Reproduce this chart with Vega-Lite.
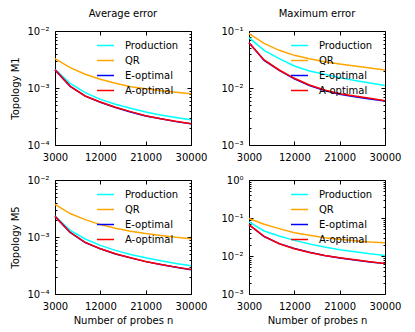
{
  "$schema": "https://vega.github.io/schema/vega-lite/v6.json",
  "padding": {"left": 10, "top": 8, "right": 5, "bottom": 5},
  "background": "white",
  "data": {"values": [
    {"panel": "M1avg", "method": "Production", "n": 3000, "error": 0.00212},
    {"panel": "M1avg", "method": "Production", "n": 6000, "error": 0.00121},
    {"panel": "M1avg", "method": "Production", "n": 9000, "error": 0.000828},
    {"panel": "M1avg", "method": "Production", "n": 12000, "error": 0.000632},
    {"panel": "M1avg", "method": "Production", "n": 15000, "error": 0.000517},
    {"panel": "M1avg", "method": "Production", "n": 18000, "error": 0.00044},
    {"panel": "M1avg", "method": "Production", "n": 21000, "error": 0.000379},
    {"panel": "M1avg", "method": "Production", "n": 24000, "error": 0.000336},
    {"panel": "M1avg", "method": "Production", "n": 27000, "error": 0.000305},
    {"panel": "M1avg", "method": "Production", "n": 30000, "error": 0.000278},
    {"panel": "M1avg", "method": "QR", "n": 3000, "error": 0.00327},
    {"panel": "M1avg", "method": "QR", "n": 6000, "error": 0.00228},
    {"panel": "M1avg", "method": "QR", "n": 9000, "error": 0.00174},
    {"panel": "M1avg", "method": "QR", "n": 12000, "error": 0.00142},
    {"panel": "M1avg", "method": "QR", "n": 15000, "error": 0.00121},
    {"panel": "M1avg", "method": "QR", "n": 18000, "error": 0.00105},
    {"panel": "M1avg", "method": "QR", "n": 21000, "error": 0.00097},
    {"panel": "M1avg", "method": "QR", "n": 24000, "error": 0.000897},
    {"panel": "M1avg", "method": "QR", "n": 27000, "error": 0.000839},
    {"panel": "M1avg", "method": "QR", "n": 30000, "error": 0.000795},
    {"panel": "M1avg", "method": "E-optimal", "n": 3000, "error": 0.00208},
    {"panel": "M1avg", "method": "E-optimal", "n": 6000, "error": 0.00107},
    {"panel": "M1avg", "method": "E-optimal", "n": 9000, "error": 0.00072},
    {"panel": "M1avg", "method": "E-optimal", "n": 12000, "error": 0.000562},
    {"panel": "M1avg", "method": "E-optimal", "n": 15000, "error": 0.000455},
    {"panel": "M1avg", "method": "E-optimal", "n": 18000, "error": 0.00038},
    {"panel": "M1avg", "method": "E-optimal", "n": 21000, "error": 0.000324},
    {"panel": "M1avg", "method": "E-optimal", "n": 24000, "error": 0.000288},
    {"panel": "M1avg", "method": "E-optimal", "n": 27000, "error": 0.000257},
    {"panel": "M1avg", "method": "E-optimal", "n": 30000, "error": 0.000235},
    {"panel": "M1avg", "method": "A-optimal", "n": 3000, "error": 0.0021},
    {"panel": "M1avg", "method": "A-optimal", "n": 6000, "error": 0.00108},
    {"panel": "M1avg", "method": "A-optimal", "n": 9000, "error": 0.000724},
    {"panel": "M1avg", "method": "A-optimal", "n": 12000, "error": 0.000568},
    {"panel": "M1avg", "method": "A-optimal", "n": 15000, "error": 0.000458},
    {"panel": "M1avg", "method": "A-optimal", "n": 18000, "error": 0.000385},
    {"panel": "M1avg", "method": "A-optimal", "n": 21000, "error": 0.000327},
    {"panel": "M1avg", "method": "A-optimal", "n": 24000, "error": 0.00029},
    {"panel": "M1avg", "method": "A-optimal", "n": 27000, "error": 0.00026},
    {"panel": "M1avg", "method": "A-optimal", "n": 30000, "error": 0.000237},

    {"panel": "M1max", "method": "Production", "n": 3000, "error": 0.0764},
    {"panel": "M1max", "method": "Production", "n": 6000, "error": 0.0458},
    {"panel": "M1max", "method": "Production", "n": 9000, "error": 0.0327},
    {"panel": "M1max", "method": "Production", "n": 12000, "error": 0.0243},
    {"panel": "M1max", "method": "Production", "n": 15000, "error": 0.0199},
    {"panel": "M1max", "method": "Production", "n": 18000, "error": 0.0174},
    {"panel": "M1max", "method": "Production", "n": 21000, "error": 0.0152},
    {"panel": "M1max", "method": "Production", "n": 24000, "error": 0.0136},
    {"panel": "M1max", "method": "Production", "n": 27000, "error": 0.0122},
    {"panel": "M1max", "method": "Production", "n": 30000, "error": 0.0111},
    {"panel": "M1max", "method": "QR", "n": 3000, "error": 0.0898},
    {"panel": "M1max", "method": "QR", "n": 6000, "error": 0.0608},
    {"panel": "M1max", "method": "QR", "n": 9000, "error": 0.0458},
    {"panel": "M1max", "method": "QR", "n": 12000, "error": 0.0374},
    {"panel": "M1max", "method": "QR", "n": 15000, "error": 0.0327},
    {"panel": "M1max", "method": "QR", "n": 18000, "error": 0.029},
    {"panel": "M1max", "method": "QR", "n": 21000, "error": 0.0264},
    {"panel": "M1max", "method": "QR", "n": 24000, "error": 0.0243},
    {"panel": "M1max", "method": "QR", "n": 27000, "error": 0.0224},
    {"panel": "M1max", "method": "QR", "n": 30000, "error": 0.0207},
    {"panel": "M1max", "method": "E-optimal", "n": 3000, "error": 0.062},
    {"panel": "M1max", "method": "E-optimal", "n": 6000, "error": 0.0305},
    {"panel": "M1max", "method": "E-optimal", "n": 9000, "error": 0.0203},
    {"panel": "M1max", "method": "E-optimal", "n": 12000, "error": 0.0145},
    {"panel": "M1max", "method": "E-optimal", "n": 15000, "error": 0.011},
    {"panel": "M1max", "method": "E-optimal", "n": 18000, "error": 0.009},
    {"panel": "M1max", "method": "E-optimal", "n": 21000, "error": 0.00775},
    {"panel": "M1max", "method": "E-optimal", "n": 24000, "error": 0.007},
    {"panel": "M1max", "method": "E-optimal", "n": 27000, "error": 0.0064},
    {"panel": "M1max", "method": "E-optimal", "n": 30000, "error": 0.0059},
    {"panel": "M1max", "method": "A-optimal", "n": 3000, "error": 0.0624},
    {"panel": "M1max", "method": "A-optimal", "n": 6000, "error": 0.031},
    {"panel": "M1max", "method": "A-optimal", "n": 9000, "error": 0.0207},
    {"panel": "M1max", "method": "A-optimal", "n": 12000, "error": 0.0148},
    {"panel": "M1max", "method": "A-optimal", "n": 15000, "error": 0.0113},
    {"panel": "M1max", "method": "A-optimal", "n": 18000, "error": 0.00923},
    {"panel": "M1max", "method": "A-optimal", "n": 21000, "error": 0.00796},
    {"panel": "M1max", "method": "A-optimal", "n": 24000, "error": 0.00724},
    {"panel": "M1max", "method": "A-optimal", "n": 27000, "error": 0.00659},
    {"panel": "M1max", "method": "A-optimal", "n": 30000, "error": 0.006},

    {"panel": "M5avg", "method": "Production", "n": 3000, "error": 0.00232},
    {"panel": "M5avg", "method": "Production", "n": 6000, "error": 0.00131},
    {"panel": "M5avg", "method": "Production", "n": 9000, "error": 0.000922},
    {"panel": "M5avg", "method": "Production", "n": 12000, "error": 0.000713},
    {"panel": "M5avg", "method": "Production", "n": 15000, "error": 0.000582},
    {"panel": "M5avg", "method": "Production", "n": 18000, "error": 0.000495},
    {"panel": "M5avg", "method": "Production", "n": 21000, "error": 0.000432},
    {"panel": "M5avg", "method": "Production", "n": 24000, "error": 0.000382},
    {"panel": "M5avg", "method": "Production", "n": 27000, "error": 0.000343},
    {"panel": "M5avg", "method": "Production", "n": 30000, "error": 0.000312},
    {"panel": "M5avg", "method": "QR", "n": 3000, "error": 0.00373},
    {"panel": "M5avg", "method": "QR", "n": 6000, "error": 0.00258},
    {"panel": "M5avg", "method": "QR", "n": 9000, "error": 0.00202},
    {"panel": "M5avg", "method": "QR", "n": 12000, "error": 0.00165},
    {"panel": "M5avg", "method": "QR", "n": 15000, "error": 0.00142},
    {"panel": "M5avg", "method": "QR", "n": 18000, "error": 0.00126},
    {"panel": "M5avg", "method": "QR", "n": 21000, "error": 0.00115},
    {"panel": "M5avg", "method": "QR", "n": 24000, "error": 0.00106},
    {"panel": "M5avg", "method": "QR", "n": 27000, "error": 0.000987},
    {"panel": "M5avg", "method": "QR", "n": 30000, "error": 0.000935},
    {"panel": "M5avg", "method": "E-optimal", "n": 3000, "error": 0.0023},
    {"panel": "M5avg", "method": "E-optimal", "n": 6000, "error": 0.0012},
    {"panel": "M5avg", "method": "E-optimal", "n": 9000, "error": 0.0008},
    {"panel": "M5avg", "method": "E-optimal", "n": 12000, "error": 0.00062},
    {"panel": "M5avg", "method": "E-optimal", "n": 15000, "error": 0.000505},
    {"panel": "M5avg", "method": "E-optimal", "n": 18000, "error": 0.00043},
    {"panel": "M5avg", "method": "E-optimal", "n": 21000, "error": 0.00037},
    {"panel": "M5avg", "method": "E-optimal", "n": 24000, "error": 0.000328},
    {"panel": "M5avg", "method": "E-optimal", "n": 27000, "error": 0.000294},
    {"panel": "M5avg", "method": "E-optimal", "n": 30000, "error": 0.000267},
    {"panel": "M5avg", "method": "A-optimal", "n": 3000, "error": 0.0023},
    {"panel": "M5avg", "method": "A-optimal", "n": 6000, "error": 0.00121},
    {"panel": "M5avg", "method": "A-optimal", "n": 9000, "error": 0.000805},
    {"panel": "M5avg", "method": "A-optimal", "n": 12000, "error": 0.000622},
    {"panel": "M5avg", "method": "A-optimal", "n": 15000, "error": 0.000508},
    {"panel": "M5avg", "method": "A-optimal", "n": 18000, "error": 0.000432},
    {"panel": "M5avg", "method": "A-optimal", "n": 21000, "error": 0.000372},
    {"panel": "M5avg", "method": "A-optimal", "n": 24000, "error": 0.00033},
    {"panel": "M5avg", "method": "A-optimal", "n": 27000, "error": 0.000296},
    {"panel": "M5avg", "method": "A-optimal", "n": 30000, "error": 0.000269},

    {"panel": "M5max", "method": "Production", "n": 3000, "error": 0.0788},
    {"panel": "M5max", "method": "Production", "n": 6000, "error": 0.0455},
    {"panel": "M5max", "method": "Production", "n": 9000, "error": 0.0336},
    {"panel": "M5max", "method": "Production", "n": 12000, "error": 0.0258},
    {"panel": "M5max", "method": "Production", "n": 15000, "error": 0.0206},
    {"panel": "M5max", "method": "Production", "n": 18000, "error": 0.0172},
    {"panel": "M5max", "method": "Production", "n": 21000, "error": 0.0146},
    {"panel": "M5max", "method": "Production", "n": 24000, "error": 0.0129},
    {"panel": "M5max", "method": "Production", "n": 27000, "error": 0.0114},
    {"panel": "M5max", "method": "Production", "n": 30000, "error": 0.0103},
    {"panel": "M5max", "method": "QR", "n": 3000, "error": 0.0966},
    {"panel": "M5max", "method": "QR", "n": 6000, "error": 0.0684},
    {"panel": "M5max", "method": "QR", "n": 9000, "error": 0.0525},
    {"panel": "M5max", "method": "QR", "n": 12000, "error": 0.0411},
    {"panel": "M5max", "method": "QR", "n": 15000, "error": 0.035},
    {"panel": "M5max", "method": "QR", "n": 18000, "error": 0.0303},
    {"panel": "M5max", "method": "QR", "n": 21000, "error": 0.0274},
    {"panel": "M5max", "method": "QR", "n": 24000, "error": 0.0252},
    {"panel": "M5max", "method": "QR", "n": 27000, "error": 0.0233},
    {"panel": "M5max", "method": "QR", "n": 30000, "error": 0.0223},
    {"panel": "M5max", "method": "E-optimal", "n": 3000, "error": 0.0665},
    {"panel": "M5max", "method": "E-optimal", "n": 6000, "error": 0.0325},
    {"panel": "M5max", "method": "E-optimal", "n": 9000, "error": 0.0212},
    {"panel": "M5max", "method": "E-optimal", "n": 12000, "error": 0.0157},
    {"panel": "M5max", "method": "E-optimal", "n": 15000, "error": 0.0125},
    {"panel": "M5max", "method": "E-optimal", "n": 18000, "error": 0.0103},
    {"panel": "M5max", "method": "E-optimal", "n": 21000, "error": 0.0089},
    {"panel": "M5max", "method": "E-optimal", "n": 24000, "error": 0.0079},
    {"panel": "M5max", "method": "E-optimal", "n": 27000, "error": 0.007},
    {"panel": "M5max", "method": "E-optimal", "n": 30000, "error": 0.0063},
    {"panel": "M5max", "method": "A-optimal", "n": 3000, "error": 0.067},
    {"panel": "M5max", "method": "A-optimal", "n": 6000, "error": 0.0329},
    {"panel": "M5max", "method": "A-optimal", "n": 9000, "error": 0.021},
    {"panel": "M5max", "method": "A-optimal", "n": 12000, "error": 0.0155},
    {"panel": "M5max", "method": "A-optimal", "n": 15000, "error": 0.0124},
    {"panel": "M5max", "method": "A-optimal", "n": 18000, "error": 0.0103},
    {"panel": "M5max", "method": "A-optimal", "n": 21000, "error": 0.00896},
    {"panel": "M5max", "method": "A-optimal", "n": 24000, "error": 0.00794},
    {"panel": "M5max", "method": "A-optimal", "n": 27000, "error": 0.00703},
    {"panel": "M5max", "method": "A-optimal", "n": 30000, "error": 0.00634}
  ]},
  "columns": 2,
  "spacing": {"column": 58, "row": 35},
  "bounds": "flush",
  "concat": [
    {
      "width": 136, "height": 114,
      "title": "Average error",
      "transform": [{"filter": "datum.panel === 'M1avg'"}],
      "layer": [
        {"mark": {"type": "line", "strokeWidth": 1.5},
         "encoding": {
           "x": {"field": "n", "type": "quantitative", "scale": {"domain": [3000, 30000], "nice": false}, "axis": {"orient": "bottom", "values": [3000, 12000, 21000, 30000], "format": "d", "title": null}},
           "y": {"field": "error", "type": "quantitative", "scale": {"type": "log", "domain": [0.0001, 0.01], "nice": false}, "axis": {"orient": "left", "values": [0.0001, 0.001, 0.01], "title": "Topology M1", "labelExpr": "datum.value == 1 ? '10⁰' : datum.value == 0.1 ? '10⁻¹' : datum.value == 0.01 ? '10⁻²' : datum.value == 0.001 ? '10⁻³' : '10⁻⁴'"}},
           "color": {"field": "method", "type": "nominal", "scale": {"domain": ["Production", "QR", "E-optimal", "A-optimal"], "range": ["#00ffff", "#ffa500", "#0000ff", "#ff0000"]}, "legend": {"title": null}}
         }},
        {"mark": {"type": "point", "opacity": 0},
         "encoding": {
           "x": {"field": "n", "type": "quantitative", "scale": {"domain": [3000, 30000], "nice": false}, "axis": {"orient": "top", "values": [3000, 12000, 21000, 30000], "labels": false, "title": null}},
           "y": {"field": "error", "type": "quantitative", "scale": {"type": "log", "domain": [0.0001, 0.01], "nice": false}, "axis": {"orient": "right", "values": [0.0001, 0.001, 0.01], "labels": false, "title": null}}
         }},
        {"mark": {"type": "point", "opacity": 0},
         "encoding": {
           "x": {"field": "n", "type": "quantitative", "scale": {"domain": [3000, 30000], "nice": false}, "axis": null},
           "y": {"field": "error", "type": "quantitative", "scale": {"type": "log", "domain": [0.0001, 0.01], "nice": false}, "axis": {"orient": "left", "values": [0.0002, 0.0003, 0.0004, 0.0005, 0.0006, 0.0007, 0.0008, 0.0009, 0.002, 0.003, 0.004, 0.005, 0.006, 0.007, 0.008, 0.009], "labels": false, "tickSize": -2, "title": null}}
         }},
        {"mark": {"type": "point", "opacity": 0},
         "encoding": {
           "x": {"field": "n", "type": "quantitative", "scale": {"domain": [3000, 30000], "nice": false}, "axis": null},
           "y": {"field": "error", "type": "quantitative", "scale": {"type": "log", "domain": [0.0001, 0.01], "nice": false}, "axis": {"orient": "right", "values": [0.0002, 0.0003, 0.0004, 0.0005, 0.0006, 0.0007, 0.0008, 0.0009, 0.002, 0.003, 0.004, 0.005, 0.006, 0.007, 0.008, 0.009], "labels": false, "tickSize": -2, "title": null}}
         }}
      ],
      "resolve": {"scale": {"x": "independent", "y": "independent"}}
    },
    {
      "width": 136, "height": 114,
      "title": "Maximum error",
      "transform": [{"filter": "datum.panel === 'M1max'"}],
      "layer": [
        {"mark": {"type": "line", "strokeWidth": 1.5},
         "encoding": {
           "x": {"field": "n", "type": "quantitative", "scale": {"domain": [3000, 30000], "nice": false}, "axis": {"orient": "bottom", "values": [3000, 12000, 21000, 30000], "format": "d", "title": null}},
           "y": {"field": "error", "type": "quantitative", "scale": {"type": "log", "domain": [0.001, 0.1], "nice": false}, "axis": {"orient": "left", "values": [0.001, 0.01, 0.1], "title": null, "labelExpr": "datum.value == 1 ? '10⁰' : datum.value == 0.1 ? '10⁻¹' : datum.value == 0.01 ? '10⁻²' : datum.value == 0.001 ? '10⁻³' : '10⁻⁴'"}},
           "color": {"field": "method", "type": "nominal", "scale": {"domain": ["Production", "QR", "E-optimal", "A-optimal"], "range": ["#00ffff", "#ffa500", "#0000ff", "#ff0000"]}, "legend": {"title": null}}
         }},
        {"mark": {"type": "point", "opacity": 0},
         "encoding": {
           "x": {"field": "n", "type": "quantitative", "scale": {"domain": [3000, 30000], "nice": false}, "axis": {"orient": "top", "values": [3000, 12000, 21000, 30000], "labels": false, "title": null}},
           "y": {"field": "error", "type": "quantitative", "scale": {"type": "log", "domain": [0.001, 0.1], "nice": false}, "axis": {"orient": "right", "values": [0.001, 0.01, 0.1], "labels": false, "title": null}}
         }},
        {"mark": {"type": "point", "opacity": 0},
         "encoding": {
           "x": {"field": "n", "type": "quantitative", "scale": {"domain": [3000, 30000], "nice": false}, "axis": null},
           "y": {"field": "error", "type": "quantitative", "scale": {"type": "log", "domain": [0.001, 0.1], "nice": false}, "axis": {"orient": "left", "values": [0.002, 0.003, 0.004, 0.005, 0.006, 0.007, 0.008, 0.009, 0.02, 0.03, 0.04, 0.05, 0.06, 0.07, 0.08, 0.09], "labels": false, "tickSize": -2, "title": null}}
         }},
        {"mark": {"type": "point", "opacity": 0},
         "encoding": {
           "x": {"field": "n", "type": "quantitative", "scale": {"domain": [3000, 30000], "nice": false}, "axis": null},
           "y": {"field": "error", "type": "quantitative", "scale": {"type": "log", "domain": [0.001, 0.1], "nice": false}, "axis": {"orient": "right", "values": [0.002, 0.003, 0.004, 0.005, 0.006, 0.007, 0.008, 0.009, 0.02, 0.03, 0.04, 0.05, 0.06, 0.07, 0.08, 0.09], "labels": false, "tickSize": -2, "title": null}}
         }}
      ],
      "resolve": {"scale": {"x": "independent", "y": "independent"}}
    },
    {
      "width": 136, "height": 114,
      "transform": [{"filter": "datum.panel === 'M5avg'"}],
      "layer": [
        {"mark": {"type": "line", "strokeWidth": 1.5},
         "encoding": {
           "x": {"field": "n", "type": "quantitative", "scale": {"domain": [3000, 30000], "nice": false}, "axis": {"orient": "bottom", "values": [3000, 12000, 21000, 30000], "format": "d", "title": "Number of probes n"}},
           "y": {"field": "error", "type": "quantitative", "scale": {"type": "log", "domain": [0.0001, 0.01], "nice": false}, "axis": {"orient": "left", "values": [0.0001, 0.001, 0.01], "title": "Topology M5", "labelExpr": "datum.value == 1 ? '10⁰' : datum.value == 0.1 ? '10⁻¹' : datum.value == 0.01 ? '10⁻²' : datum.value == 0.001 ? '10⁻³' : '10⁻⁴'"}},
           "color": {"field": "method", "type": "nominal", "scale": {"domain": ["Production", "QR", "E-optimal", "A-optimal"], "range": ["#00ffff", "#ffa500", "#0000ff", "#ff0000"]}, "legend": {"title": null}}
         }},
        {"mark": {"type": "point", "opacity": 0},
         "encoding": {
           "x": {"field": "n", "type": "quantitative", "scale": {"domain": [3000, 30000], "nice": false}, "axis": {"orient": "top", "values": [3000, 12000, 21000, 30000], "labels": false, "title": null}},
           "y": {"field": "error", "type": "quantitative", "scale": {"type": "log", "domain": [0.0001, 0.01], "nice": false}, "axis": {"orient": "right", "values": [0.0001, 0.001, 0.01], "labels": false, "title": null}}
         }},
        {"mark": {"type": "point", "opacity": 0},
         "encoding": {
           "x": {"field": "n", "type": "quantitative", "scale": {"domain": [3000, 30000], "nice": false}, "axis": null},
           "y": {"field": "error", "type": "quantitative", "scale": {"type": "log", "domain": [0.0001, 0.01], "nice": false}, "axis": {"orient": "left", "values": [0.0002, 0.0003, 0.0004, 0.0005, 0.0006, 0.0007, 0.0008, 0.0009, 0.002, 0.003, 0.004, 0.005, 0.006, 0.007, 0.008, 0.009], "labels": false, "tickSize": -2, "title": null}}
         }},
        {"mark": {"type": "point", "opacity": 0},
         "encoding": {
           "x": {"field": "n", "type": "quantitative", "scale": {"domain": [3000, 30000], "nice": false}, "axis": null},
           "y": {"field": "error", "type": "quantitative", "scale": {"type": "log", "domain": [0.0001, 0.01], "nice": false}, "axis": {"orient": "right", "values": [0.0002, 0.0003, 0.0004, 0.0005, 0.0006, 0.0007, 0.0008, 0.0009, 0.002, 0.003, 0.004, 0.005, 0.006, 0.007, 0.008, 0.009], "labels": false, "tickSize": -2, "title": null}}
         }}
      ],
      "resolve": {"scale": {"x": "independent", "y": "independent"}}
    },
    {
      "width": 136, "height": 114,
      "transform": [{"filter": "datum.panel === 'M5max'"}],
      "layer": [
        {"mark": {"type": "line", "strokeWidth": 1.5},
         "encoding": {
           "x": {"field": "n", "type": "quantitative", "scale": {"domain": [3000, 30000], "nice": false}, "axis": {"orient": "bottom", "values": [3000, 12000, 21000, 30000], "format": "d", "title": "Number of probes n"}},
           "y": {"field": "error", "type": "quantitative", "scale": {"type": "log", "domain": [0.001, 1], "nice": false}, "axis": {"orient": "left", "values": [0.001, 0.01, 0.1, 1], "title": null, "labelExpr": "datum.value == 1 ? '10⁰' : datum.value == 0.1 ? '10⁻¹' : datum.value == 0.01 ? '10⁻²' : datum.value == 0.001 ? '10⁻³' : '10⁻⁴'"}},
           "color": {"field": "method", "type": "nominal", "scale": {"domain": ["Production", "QR", "E-optimal", "A-optimal"], "range": ["#00ffff", "#ffa500", "#0000ff", "#ff0000"]}, "legend": {"title": null}}
         }},
        {"mark": {"type": "point", "opacity": 0},
         "encoding": {
           "x": {"field": "n", "type": "quantitative", "scale": {"domain": [3000, 30000], "nice": false}, "axis": {"orient": "top", "values": [3000, 12000, 21000, 30000], "labels": false, "title": null}},
           "y": {"field": "error", "type": "quantitative", "scale": {"type": "log", "domain": [0.001, 1], "nice": false}, "axis": {"orient": "right", "values": [0.001, 0.01, 0.1, 1], "labels": false, "title": null}}
         }},
        {"mark": {"type": "point", "opacity": 0},
         "encoding": {
           "x": {"field": "n", "type": "quantitative", "scale": {"domain": [3000, 30000], "nice": false}, "axis": null},
           "y": {"field": "error", "type": "quantitative", "scale": {"type": "log", "domain": [0.001, 1], "nice": false}, "axis": {"orient": "left", "values": [0.002, 0.003, 0.004, 0.005, 0.006, 0.007, 0.008, 0.009, 0.02, 0.03, 0.04, 0.05, 0.06, 0.07, 0.08, 0.09, 0.2, 0.3, 0.4, 0.5, 0.6, 0.7, 0.8, 0.9], "labels": false, "tickSize": -2, "title": null}}
         }},
        {"mark": {"type": "point", "opacity": 0},
         "encoding": {
           "x": {"field": "n", "type": "quantitative", "scale": {"domain": [3000, 30000], "nice": false}, "axis": null},
           "y": {"field": "error", "type": "quantitative", "scale": {"type": "log", "domain": [0.001, 1], "nice": false}, "axis": {"orient": "right", "values": [0.002, 0.003, 0.004, 0.005, 0.006, 0.007, 0.008, 0.009, 0.02, 0.03, 0.04, 0.05, 0.06, 0.07, 0.08, 0.09, 0.2, 0.3, 0.4, 0.5, 0.6, 0.7, 0.8, 0.9], "labels": false, "tickSize": -2, "title": null}}
         }}
      ],
      "resolve": {"scale": {"x": "independent", "y": "independent"}}
    }
  ],
  "resolve": {"scale": {"x": "independent", "y": "independent", "color": "independent"}, "legend": {"color": "independent"}},
  "config": {
    "font": "DejaVu Sans",
    "view": {"stroke": "black", "strokeWidth": 1},
    "axis": {"domain": false, "grid": false, "tickColor": "black", "tickSize": -4, "tickWidth": 1, "labelFont": "DejaVu Sans", "labelFontSize": 10, "labelColor": "black", "labelFlush": false, "labelOverlap": false, "titleFont": "DejaVu Sans", "titleFontSize": 10, "titleFontWeight": "normal", "titleColor": "black", "titlePadding": 6},
    "axisX": {"labelPadding": 11, "titlePadding": 4},
    "axisY": {"labelPadding": 10},
    "legend": {"orient": "none", "legendX": 41, "legendY": 5, "padding": 0, "symbolType": "stroke", "symbolSize": 289, "symbolStrokeWidth": 1.5, "labelFont": "DejaVu Sans", "labelFontSize": 10, "labelColor": "black", "labelOffset": 10, "rowPadding": 0},
    "title": {"font": "DejaVu Sans", "fontSize": 10, "fontWeight": "normal", "color": "black", "offset": 7}
  }
}
